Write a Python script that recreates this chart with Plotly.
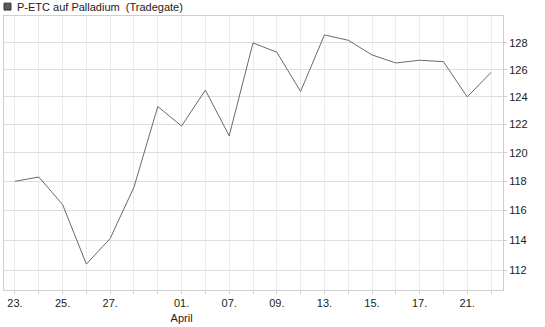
import math
import plotly.graph_objects as go

dates = ["23.03", "24.03", "25.03", "26.03", "27.03", "30.03", "31.03", "01.04", "02.04",
         "07.04", "08.04", "09.04", "10.04", "13.04", "14.04", "15.04", "16.04", "17.04",
         "20.04", "21.04", "22.04"]
prices = [118.0, 118.3, 116.4, 112.4, 114.1, 117.6, 123.3, 121.9, 124.5,
          121.2, 128.0, 127.3, 124.4, 128.6, 128.2, 127.1, 126.5, 126.7,
          126.6, 124.0, 125.8]
tick_labels = ["23.", "", "25.", "", "27.", "", "", "01.<br>April", "",
               "07.", "", "09.", "", "13.", "", "15.", "", "17.",
               "", "21.", ""]
y_ticks = [112, 114, 116, 118, 120, 122, 124, 126, 128]
title = "P-ETC auf Palladium \u00a0(Tradegate)"

idx = list(range(len(dates)))

fig = go.Figure()
fig.add_trace(go.Scatter(x=idx, y=prices, mode="lines",
                         line=dict(color="#6a6a6a", width=1), hoverinfo="skip",
                         showlegend=False))

font = "Liberation Sans, Arial, sans-serif"
fig.update_layout(
    width=545, height=327,
    margin=dict(l=3, r=42, t=16, b=34),
    paper_bgcolor="white", plot_bgcolor="white",
    font=dict(family=font, size=11, color="#222"),
    xaxis=dict(
        range=[-0.461, 20.503], tickmode="array", tickvals=idx, ticktext=tick_labels,
        showgrid=True, gridcolor="#ececec", gridwidth=1,
        showline=True, linecolor="#cfcfcf", linewidth=1, mirror=True,
        ticks="outside", ticklen=3, tickcolor="#cfcfcf",
        tickfont=dict(family=font, size=11, color="#222"), zeroline=False,
    ),
    yaxis=dict(
        type="log", side="right",
        range=[math.log10(110.7), math.log10(130.04)],
        tickmode="array", tickvals=y_ticks, ticktext=[str(v) for v in y_ticks],
        showgrid=True, gridcolor="#dedede", gridwidth=1,
        showline=True, linecolor="#cfcfcf", linewidth=1, mirror=True,
        ticks="outside", ticklen=3, tickcolor="#cfcfcf",
        tickfont=dict(family=font, size=11, color="#222"), zeroline=False,
    ),
    shapes=[dict(type="rect", xref="paper", yref="paper",
                 x0=0.0, x1=0.014, y0=(293 - 10) / 277, y1=(293 - 3) / 277,
                 fillcolor="#5a5a5a", line=dict(color="#333", width=1))],
    annotations=[dict(text=title, xref="paper", yref="paper",
                      x=(14 - 3) / 500, y=(293 - 7) / 277, xanchor="left", yanchor="middle",
                      showarrow=False, font=dict(family=font, size=11, color="#222"))],
)

fig.write_html("out.html")
